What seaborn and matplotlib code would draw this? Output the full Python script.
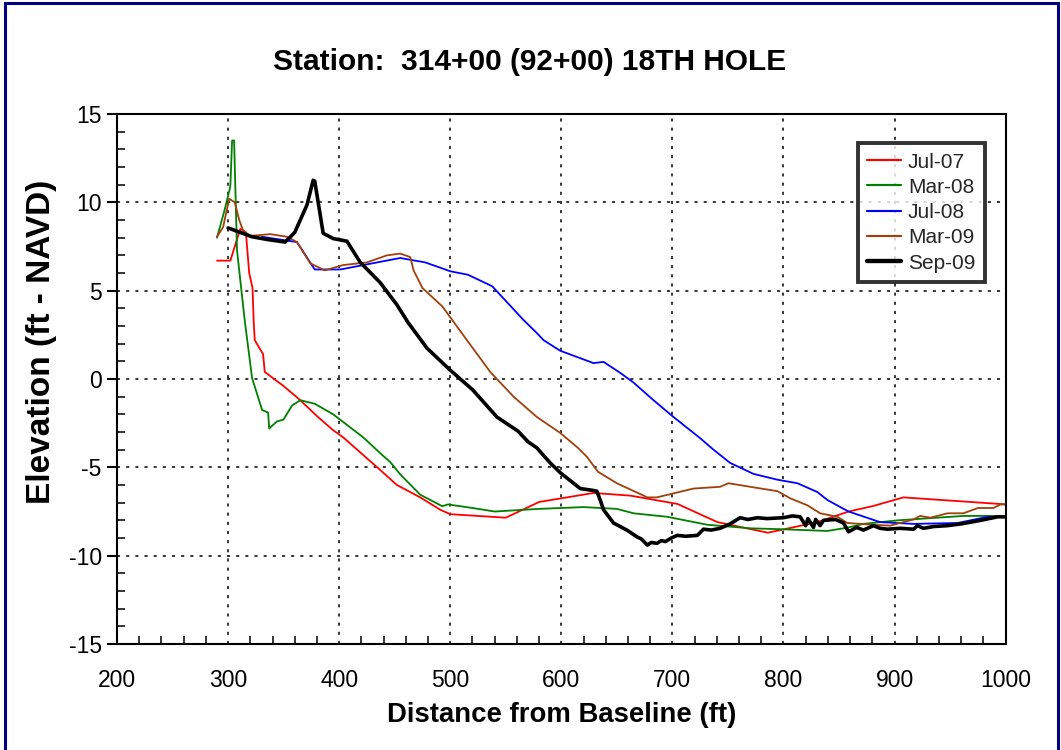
import matplotlib
matplotlib.use("Agg")
import matplotlib.pyplot as plt
import seaborn as sns
import pandas as pd
from matplotlib.ticker import MultipleLocator
from matplotlib.patches import Rectangle

# ---------------- data ----------------
jul07_x = [290, 302, 311, 316, 319, 322, 323, 324, 331.5, 333, 350, 365, 380, 394.6, 403.6, 421.6,
           437, 452, 464, 473, 491, 500, 550, 580, 629, 662, 704.5, 740.5, 786, 830.6, 858.6, 880, 908, 1001]
jul07_y = [6.7, 6.7, 8.5, 8.3, 6.0, 5.15, 3.3, 2.2, 1.4, 0.4, -0.4, -1.2, -2.1, -2.9, -3.3, -4.3,
           -5.15, -6.0, -6.4, -6.7, -7.4, -7.65, -7.85, -6.96, -6.45, -6.6, -7.07, -8.1, -8.7, -8.1, -7.5, -7.2, -6.7, -7.1]

mar08_x = [290, 297, 302, 303.6, 305.4, 308, 315, 321.6, 330.6, 336, 337, 344, 349.8, 357.6, 365, 378,
           394.6, 421.6, 438.7, 446, 455, 473, 492.8, 498, 520, 540, 580, 620, 650, 665, 695.5, 731.5,
           770, 797, 839.6, 858.6, 872, 902.7, 962, 1001]
mar08_y = [8.0, 9.6, 10.9, 13.5, 13.5, 7.3, 3.3, 0.05, -1.75, -1.9, -2.8, -2.4, -2.3, -1.5, -1.2, -1.4,
           -2.0, -3.3, -4.3, -4.7, -5.4, -6.55, -7.2, -7.1, -7.3, -7.5, -7.35, -7.25, -7.35, -7.6, -7.8, -8.25,
           -8.45, -8.5, -8.6, -8.4, -8.2, -8.0, -7.75, -7.75]

jul08_x = [330.6, 362, 378, 401, 455, 477.5, 500, 516, 537.8, 565.8, 578, 584, 599, 629, 638, 653, 665,
           683, 701, 725, 737, 752, 773, 794.6, 812.6, 830.6, 839.6, 858.6, 887, 917, 956.7, 983.8, 1001]
jul08_y = [8.05, 7.75, 6.2, 6.2, 6.85, 6.6, 6.1, 5.9, 5.25, 3.35, 2.6, 2.2, 1.6, 0.9, 0.97, 0.35, -0.2,
           -1.2, -2.15, -3.35, -4.0, -4.75, -5.37, -5.7, -5.9, -6.4, -6.85, -7.5, -8.1, -8.2, -8.15, -7.8, -7.8]

mar09_x = [290, 295.5, 301, 306, 310, 313.5, 320, 338, 353, 362, 374, 387, 403.6, 425, 443, 455, 464,
           467, 475, 493, 515, 536, 557, 578, 599, 615, 623, 633, 650, 677.5, 686, 719, 743, 750.5, 770,
           794.6, 806, 821.6, 833, 848.6, 857.6, 881, 896, 917, 923, 932.4, 947.7, 962, 975, 989, 995.5, 1001]
mar09_y = [8.05, 8.6, 10.2, 10.0, 9.0, 8.4, 8.1, 8.2, 8.05, 7.75, 6.55, 6.15, 6.45, 6.6, 7.0, 7.1, 6.9,
           6.15, 5.15, 4.1, 2.2, 0.4, -1.0, -2.15, -3.05, -3.9, -4.4, -5.25, -5.9, -6.7, -6.7, -6.2, -6.1, -5.9, -6.1,
           -6.35, -6.75, -7.15, -7.6, -7.8, -8.15, -8.25, -8.3, -7.95, -7.75, -7.85, -7.6, -7.6, -7.3, -7.3, -7.1, -7.1]

sep09_x = [300, 321.6, 335, 351.4, 360, 371, 376.6, 378, 385.6, 394.6, 407, 419, 437, 452, 462, 479,
           500, 520, 542, 561, 570, 578, 590, 599, 617, 628, 632, 635, 638, 647, 659, 668.5, 672, 677.5, 681,
           686, 690, 693.7, 699, 704.5, 712, 722.5, 728, 735, 743, 752, 761, 768, 776.6, 785, 800, 808, 815,
           820, 822, 827, 829, 833, 836, 847, 854, 858.6, 860, 866, 872, 881, 887, 893.5, 905, 917, 920.6,
           926, 935, 947.7, 960, 977.5, 992.8, 1001]
sep09_y = [8.55, 8.05, 7.9, 7.75, 8.3, 9.85, 11.25, 11.2, 8.25, 7.95, 7.8, 6.6, 5.45, 4.2, 3.2, 1.75,
           0.5, -0.6, -2.15, -2.95, -3.55, -3.9, -4.75, -5.3, -6.2, -6.3, -6.35, -6.85, -7.4, -8.15, -8.55, -8.95, -9.05, -9.4, -9.25,
           -9.3, -9.15, -9.2, -9.0, -8.85, -8.9, -8.85, -8.5, -8.55, -8.45, -8.2, -7.85, -7.95, -7.85, -7.9, -7.85, -7.75, -7.8,
           -8.3, -7.9, -8.4, -7.95, -8.3, -8.0, -7.95, -8.15, -8.65, -8.6, -8.4, -8.55, -8.3, -8.45, -8.5, -8.45, -8.5, -8.3,
           -8.45, -8.35, -8.3, -8.2, -8.0, -7.8, -7.8]

series_names = ["Jul-07", "Mar-08", "Jul-08", "Mar-09", "Sep-09"]
series_x = [jul07_x, mar08_x, jul08_x, mar09_x, sep09_x]
series_y = [jul07_y, mar08_y, jul08_y, mar09_y, sep09_y]
colors = ["#FF0000", "#008000", "#0000FF", "#A0400A", "#000000"]
widths = [1.3, 1.3, 1.3, 1.3, 2.6]

title = "Station:  314+00 (92+00) 18TH HOLE"
xlabel = "Distance from Baseline (ft)"
ylabel = "Elevation (ft - NAVD)"

# ---------------- plot ----------------
sns.set_theme(style="white")
plt.rcParams["font.family"] = ["Liberation Sans", "DejaVu Sans"]
plt.rcParams["axes.unicode_minus"] = False

fig = plt.figure(figsize=(10.61, 7.5), dpi=100)
ax = fig.add_axes([0.1103, 0.1413, 0.8375, 0.7067])

for name, xs, ys, c, lw in zip(series_names, series_x, series_y, colors, widths):
    df = pd.DataFrame({"x": xs, "y": ys})
    sns.lineplot(data=df, x="x", y="y", ax=ax, sort=False, estimator=None,
                 color=c, linewidth=lw, label=name)

ax.set_xlim(200, 1000)
ax.set_ylim(-15, 15)
ax.xaxis.set_major_locator(MultipleLocator(100))
ax.xaxis.set_minor_locator(MultipleLocator(20))
ax.yaxis.set_major_locator(MultipleLocator(5))
ax.yaxis.set_minor_locator(MultipleLocator(1))

ax.grid(True, which="major", color="black", linestyle=(0, (2, 4)), linewidth=1.1)
for sp in ax.spines.values():
    sp.set_color("black")
    sp.set_linewidth(1.5)

ax.tick_params(axis="y", which="major", direction="out", length=7, width=1.5,
               labelsize=16.5, colors="black", left=True, pad=4)
ax.tick_params(axis="y", which="minor", direction="in", length=6, width=1.3, left=True)
ax.tick_params(axis="x", which="major", direction="in", length=0, width=1.5,
               labelsize=16.5, colors="black", bottom=True, pad=18)
ax.tick_params(axis="x", which="minor", direction="in", length=6, width=1.3, bottom=True)

ax.set_xlabel(xlabel, fontsize=19.8, fontweight="bold", color="black", labelpad=7)
ax.set_ylabel(ylabel, fontsize=24, fontweight="bold", color="black")
ax.yaxis.set_label_coords(-0.068, 0.57)
fig.text(0.4995, 0.918, title, ha="center", va="center", fontsize=21.5, fontweight="bold", color="black")

leg = ax.legend(loc="upper right", bbox_to_anchor=(0.9765, 0.945), fontsize=15, frameon=True,
                fancybox=False, edgecolor="black", handlelength=1.6, handletextpad=0.35,
                borderpad=0.45, labelspacing=0.3, borderaxespad=0)
leg.get_frame().set_linewidth(2.8)
for line in leg.get_lines():
    line.set_linewidth(line.get_linewidth() * 1.2)

# navy outer border of the figure
fig.patches.append(Rectangle((5 / 1061, -0.05), 1053 / 1061, 1.05 - 3 / 750,
                             transform=fig.transFigure, fill=False,
                             edgecolor="#000080", linewidth=2.2))

fig.savefig("out.png", dpi=100)
